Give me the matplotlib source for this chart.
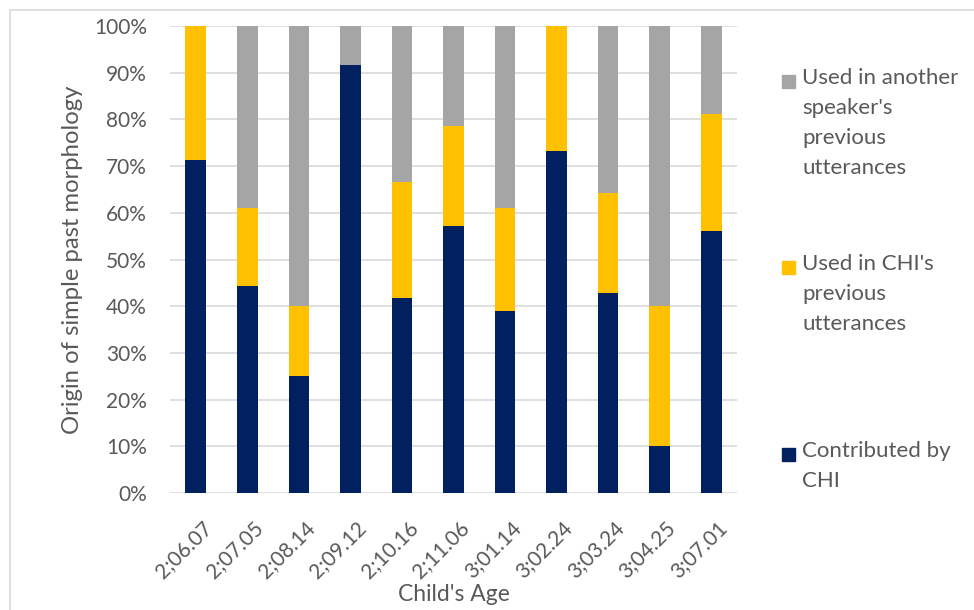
import matplotlib.pyplot as plt
from matplotlib.patches import Rectangle
from matplotlib.ticker import PercentFormatter
from matplotlib.transforms import ScaledTranslation

plt.rcParams['font.family'] = ['Lato', 'DejaVu Sans']

## Données (en %)
ages = ['2;06.07', '2;07.05', '2;08.14', '2;09.12', '2;10.16', '2;11.06',
        '3;01.14', '3;02.24', '3;03.24', '3;04.25', '3;07.01']
chi = [71.4, 44.4, 25.0, 91.7, 41.7, 57.1, 39.0, 73.3, 42.9, 10.0, 56.2]
chi_prev = [28.6, 16.7, 15.0, 0.0, 25.0, 21.4, 22.0, 26.7, 21.4, 30.0, 25.0]
autre = [0.0, 38.9, 60.0, 8.3, 33.3, 21.5, 39.0, 0.0, 35.7, 60.0, 18.8]

noms = ['Contributed by\nCHI',
        "Used in CHI's\nprevious\nutterances",
        "Used in another\nspeaker's\nprevious\nutterances"]
couleurs = ['#002060', '#FFC000', '#A5A5A5']
gris_texte = '#595959'

W, H = 974, 610
fig = plt.figure(figsize=(W / 100, H / 100), dpi=100)
ax = fig.add_axes([170 / W, 1 - 493 / H, 567 / W, 467 / H])

x = range(len(ages))
bas2 = [a + b for a, b in zip(chi, chi_prev)]
ax.bar(x, chi, width=0.4, color=couleurs[0], zorder=3)
ax.bar(x, chi_prev, width=0.4, bottom=chi, color=couleurs[1], zorder=3)
ax.bar(x, autre, width=0.4, bottom=bas2, color=couleurs[2], zorder=3)

ax.set_xlim(-0.5, len(ages) - 0.5)
ax.set_ylim(0, 100)
ax.set_yticks(range(0, 101, 10))
ax.yaxis.set_major_formatter(PercentFormatter(decimals=0))
ax.grid(axis='y', color='#D9D9D9', linewidth=1.2, zorder=0)
for s in ax.spines.values():
    s.set_visible(False)
ax.tick_params(length=0, labelsize=15, colors=gris_texte)
ax.tick_params(axis='y', pad=16.5)
ax.tick_params(axis='x', pad=18)
ax.set_xticks(list(x))
ax.set_xticklabels(ages, rotation=45, ha='right', rotation_mode='anchor')
decal = ScaledTranslation(4 / 72, 0, fig.dpi_scale_trans)
for lab in ax.get_xticklabels():
    lab.set_transform(lab.get_transform() + decal)

ax.set_xlabel("Child's Age", fontsize=16.5, color=gris_texte, va='center')
ax.xaxis.set_label_coords(0.5, -0.218)
ax.set_ylabel('Origin of simple past morphology', fontsize=17.2, color=gris_texte, va='center')
ax.yaxis.set_label_coords(-0.172, 0.5)

## Légende (ordre inversé, carré aligné sur la première ligne)
pos_y = [455, 268, 82]
for nom, c, y in zip(noms, couleurs, pos_y):
    fig.patches.append(Rectangle((782 / W, 1 - (y + 6) / H), 13 / W, 13 / H,
                                 transform=fig.transFigure, color=c))
    fig.text(802 / W, 1 - (y - 14) / H, nom, fontsize=16, color=gris_texte,
             va='top', ha='left', linespacing=1.62)

## Cadre gris autour du graphique
fig.patches.append(Rectangle((10 / W, -0.02), 1.0, 1 - 10 / H + 0.02,
                             transform=fig.transFigure, fill=False,
                             edgecolor='#D9D9D9', linewidth=1.2))

fig.savefig('out.png', dpi=100)
